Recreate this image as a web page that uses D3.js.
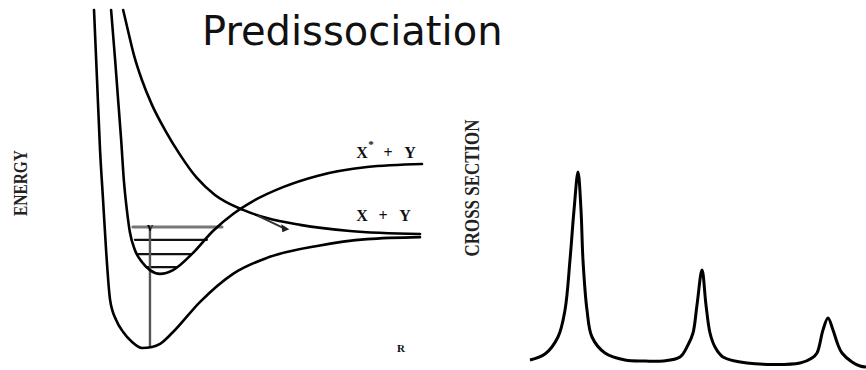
<!DOCTYPE html>
<html>
<head>
<meta charset="utf-8">
<script src="https://cdn.jsdelivr.net/npm/d3@7"></script>
<style>
  html, body { margin: 0; padding: 0; background: #fff; }
  svg { display: block; }
</style>
</head>
<body>
<svg id="chart" width="866" height="370"></svg>
<script>
// potential curves, R (arbitrary units) vs energy (arbitrary units)
const groundR = [0.12, 0.21, 0.30, 0.39, 0.48, 0.60, 0.78, 0.99, 1.25, 1.55, 1.85, 2.09, 2.48, 3.28, 4.27, 5.28, 6.78, 8.27, 9.85];
const groundE = [10, 7.94, 5.88, 4.41, 2.94, 1.47, 0.88, 0.53, 0.24, 0.06, 0.09, 0.18, 0.53, 1.41, 2.24, 2.71, 3.06, 3.26, 3.32];

const excitedR = [0.63, 0.75, 0.84, 0.93, 1.01, 1.10, 1.19, 1.34, 1.55, 1.79, 2.09, 2.48, 3.07, 3.67, 4.27, 4.87, 5.76, 6.78, 8.27, 9.91];
const excitedE = [10, 8.53, 7.35, 6.18, 5.0, 4.12, 3.47, 2.94, 2.59, 2.35, 2.24, 2.35, 2.85, 3.5, 4.0, 4.38, 4.79, 5.12, 5.38, 5.47];

const repulsiveR = [0.99, 1.13, 1.31, 1.55, 1.85, 2.24, 2.69, 3.19, 3.73, 4.57, 5.28, 6.27, 7.76, 9.85];
const repulsiveE = [10, 9.41, 8.68, 7.94, 7.21, 6.47, 5.74, 5.06, 4.56, 4.12, 3.88, 3.68, 3.50, 3.41];

// vibrational levels of the bound excited state
const levelE = [3.62, 3.24, 2.82, 2.44];
const levelR0 = [1.28, 1.34, 1.43, 1.67];
const levelR1 = [3.94, 3.49, 3.04, 2.57];

// absorption (transition) line
const transR = 1.79;
const transE = [0.09, 3.62];

// cross section spectrum
const specX = [0, 4.46, 8.33, 10.42, 11.9, 13.1, 14.29, 15.18, 15.77, 16.96, 18.45, 22.32, 28.27, 34.23, 39.58, 44.64, 47.02, 48.51, 49.7, 51.19, 52.38, 53.57, 55.06, 57.44, 64.58, 80.36, 83.93, 85.42, 87.2, 88.69, 90.18, 91.67, 92.86, 95.83, 98.21, 100];
const specY = [2.5, 5.5, 14, 27.5, 52.5, 77.5, 96.5, 77.5, 52.5, 27.5, 14, 6, 2.5, 2, 2, 4, 10, 16, 30, 47.5, 30, 16, 9, 4, 1, 1, 3.5, 6, 17.5, 23.5, 17.5, 10, 6, 1.5, -0.5, -1];

const title = "Predissociation";
const yLabel = "ENERGY";
const specLabel = "CROSS SECTION";
const upperLabel = ["X", "*", "+", "Y"];
const lowerLabel = ["X", "+", "Y"];
const rLabel = "R";

const svg = d3.select("#chart");

// potential panel scales
const x = d3.scaleLinear().domain([0, 10]).range([90, 425]);
const y = d3.scaleLinear().domain([0, 10]).range([350, 10]);

// spectrum panel scales
const sx = d3.scaleLinear().domain([0, 100]).range([530, 866]);
const sy = d3.scaleLinear().domain([0, 100]).range([365, 165]);

const line = d3.line().x(d => x(d[0])).y(d => y(d[1])).curve(d3.curveMonotoneX);
const zipR = (a, b) => a.map((v, i) => [v, b[i]]);

const g = svg.append("g")
  .attr("fill", "none")
  .attr("stroke", "#000")
  .attr("stroke-linecap", "round")
  .attr("stroke-linejoin", "round");

// vibrational levels
g.selectAll("line.level")
  .data(levelE)
  .join("line")
  .attr("class", "level")
  .attr("x1", (d, i) => x(levelR0[i]))
  .attr("x2", (d, i) => x(levelR1[i]))
  .attr("y1", d => y(d))
  .attr("y2", d => y(d))
  .attr("stroke", (d, i) => i === 0 ? "#777" : "#111")
  .attr("stroke-width", (d, i) => i === 0 ? 3 : 2.2);

// transition line
g.append("line")
  .attr("x1", x(transR)).attr("x2", x(transR))
  .attr("y1", y(transE[0])).attr("y2", y(transE[1]))
  .attr("stroke", "#555")
  .attr("stroke-width", 2.4);

// potential curves
[[groundR, groundE], [excitedR, excitedE], [repulsiveR, repulsiveE]].forEach(([r, e]) => {
  g.append("path")
    .attr("d", line(zipR(r, e)))
    .attr("stroke-width", 2.6);
});

// small marker on the top level
svg.append("text")
  .attr("x", x(transR)).attr("y", y(transE[1]) + 4)
  .attr("text-anchor", "middle")
  .attr("font-family", "Liberation Serif")
  .attr("font-weight", "bold")
  .attr("font-size", 12)
  .text("v");

// arrow near the curve crossing
svg.append("path")
  .attr("d", `M${x(5.0)},${y(3.95)} L${x(5.75)},${y(3.6)}`)
  .attr("stroke", "#333").attr("stroke-width", 2);
svg.append("path")
  .attr("d", `M${x(5.95)},${y(3.55)} l-8,-5 l1,8 z`)
  .attr("fill", "#222");

// spectrum
const sline = d3.line().x(d => sx(d[0])).y(d => sy(d[1])).curve(d3.curveCatmullRom.alpha(0.5));
svg.append("path")
  .attr("d", sline(zipR(specX, specY)))
  .attr("fill", "none")
  .attr("stroke", "#000")
  .attr("stroke-width", 3)
  .attr("stroke-linejoin", "round");

// labels
svg.append("text")
  .attr("x", 202).attr("y", 45)
  .attr("font-family", "DejaVu Sans")
  .attr("font-size", 40)
  .attr("fill", "#111")
  .text(title);

svg.append("text")
  .attr("transform", "translate(27,183) rotate(-90)")
  .attr("text-anchor", "middle")
  .attr("font-family", "Liberation Serif")
  .attr("font-weight", "bold")
  .attr("font-size", 19)
  .attr("textLength", 66)
  .attr("lengthAdjust", "spacingAndGlyphs")
  .attr("fill", "#222")
  .text(yLabel);

svg.append("text")
  .attr("transform", "translate(479,188) rotate(-90)")
  .attr("text-anchor", "middle")
  .attr("font-family", "Liberation Serif")
  .attr("font-weight", "bold")
  .attr("font-size", 22)
  .attr("textLength", 137)
  .attr("lengthAdjust", "spacingAndGlyphs")
  .attr("fill", "#222")
  .text(specLabel);

const lab = svg.append("g")
  .attr("font-family", "Liberation Serif")
  .attr("font-weight", "bold")
  .attr("font-size", 16)
  .attr("fill", "#111")
  .attr("text-anchor", "middle");

// X* + Y
lab.append("text").attr("x", 362).attr("y", 158).text(upperLabel[0]);
lab.append("text").attr("x", 371).attr("y", 148).attr("font-size", 11).text(upperLabel[1]);
lab.append("text").attr("x", 388).attr("y", 158).text(upperLabel[2]);
lab.append("text").attr("x", 410).attr("y", 158).text(upperLabel[3]);

// X + Y
lab.append("text").attr("x", 362).attr("y", 221).text(lowerLabel[0]);
lab.append("text").attr("x", 383).attr("y", 221).text(lowerLabel[1]);
lab.append("text").attr("x", 405).attr("y", 221).text(lowerLabel[2]);

lab.append("text")
  .attr("x", 401).attr("y", 352)
  .attr("font-size", 11)
  .text(rLabel);
</script>
</body>
</html>
